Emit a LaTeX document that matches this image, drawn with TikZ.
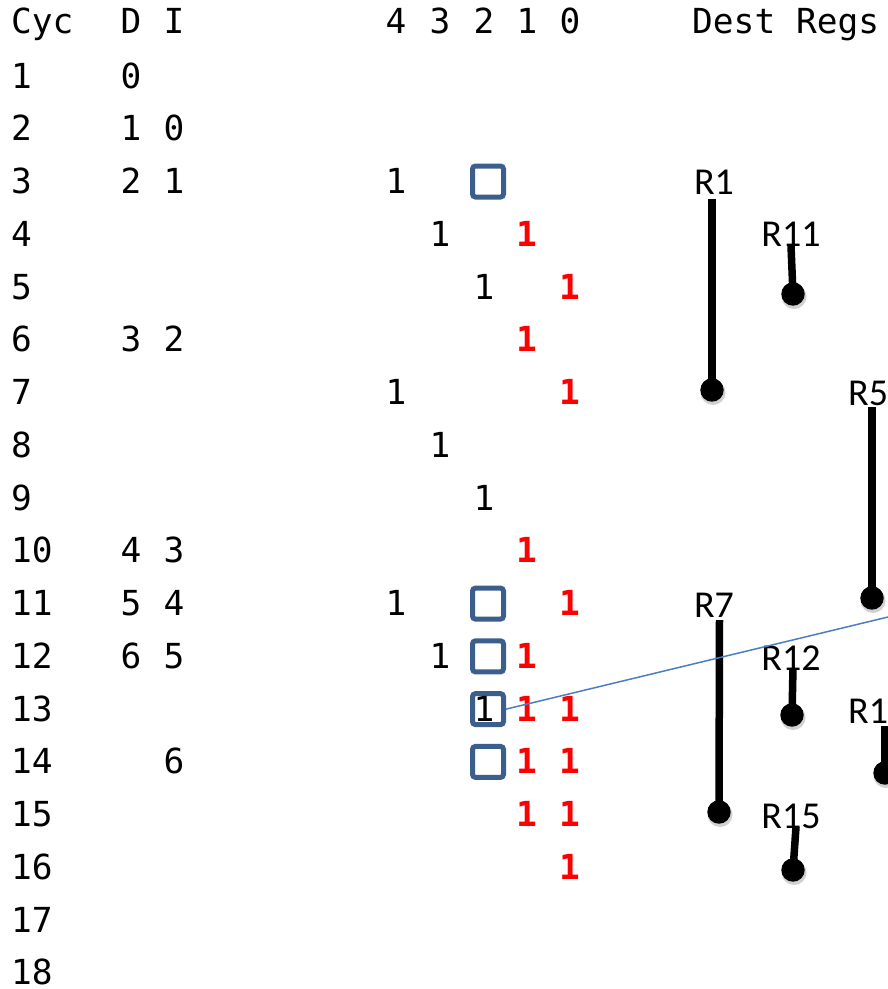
\documentclass[tikz,border=0pt]{standalone}
\usepackage{fontspec}
\usetikzlibrary{calc}
\newfontfamily\monofnt{DejaVu Sans Mono}
\newfontfamily\regfnt{Carlito}
\definecolor{boxblue}{RGB}{59,94,140}
\definecolor{lineblue}{RGB}{74,126,193}
\definecolor{redone}{RGB}{255,0,0}
\begin{document}
\begin{tikzpicture}[x=1pt,y=-1pt,
  txt/.style={font=\monofnt\fontsize{34.5}{34.5}\selectfont, inner sep=0pt, anchor=base},
  ltxt/.style={txt, anchor=base west},
  redtxt/.style={txt, font=\monofnt\bfseries\fontsize{34.5}{34.5}\selectfont, text=redone},
  reg/.style={font=\regfnt\fontsize{38}{38}\selectfont, inner sep=0pt, anchor=base},
  regw/.style={reg, anchor=base west},
  qbox/.style={draw=boxblue, line width=5pt, rounded corners=3pt, minimum size=31pt, inner sep=0pt},
  bar/.style={line width=7.5pt},
  blueline/.style={draw=lineblue, line width=1.5pt}]
\useasboundingbox (0,0) rectangle (888,989);
\clip (0,0) rectangle (888,989);
% header
\node[ltxt] (hcyc) at (11,33) {Cyc};
\node[txt] (hd) at (131,33) {D};
\node[txt] (hi) at (174,33) {I};
\node[txt] (h4) at (396,33) {4};
\node[txt] (h3) at (440,33) {3};
\node[txt] (h2) at (484,33) {2};
\node[txt] (h1) at (527,33) {1};
\node[txt] (h0) at (570,33) {0};
\node[ltxt] (hdest) at (692,33) {Dest Regs};
% cycle numbers
\foreach \n in {1,...,18}
  \node[ltxt] (cyc\n) at (11,{88+52.76*(\n-1)}) {\n};
% D column
\foreach \n/\v in {1/0,2/1,3/2,6/3,10/4,11/5,12/6}
  \node[txt] (d\n) at (131,{88+52.76*(\n-1)}) {\v};
% I column
\foreach \n/\v in {2/0,3/1,6/2,10/3,11/4,12/5,14/6}
  \node[txt] (i\n) at (174,{88+52.76*(\n-1)}) {\v};
% boxes
\foreach \n in {3,11,12,13,14}
  \node[qbox] (b\n) at (488,{76+52.76*(\n-1)}) {};
% black ones
\foreach \n/\x in {3/396,4/440,5/484,7/396,8/440,9/484,11/396,12/440,13/484}
  \node[txt] (k\n x\x) at (\x,{88+52.76*(\n-1)}) {1};
% red ones
\foreach \n/\x in {4/527,5/570,6/527,7/570,10/527,11/570,12/527,13/527,13/570,14/527,14/570,15/527,15/570,16/570}
  \node[redtxt] (r\n x\x) at (\x,{88+52.76*(\n-1)}) {1};
% register labels
\node[reg] (lr1) at (714,194) {R1};
\node[reg] (lr11) at (791,246.5) {R11};
\node[regw] (lr5) at (848,405) {R5};
\node[reg] (lr7) at (714,617) {R7};
\node[reg] (lr12) at (791,670) {R12};
\node[regw] (lr13) at (848,723) {R1};
\node[reg] (lr15) at (791,828) {R15};
% lollipop coordinates
\coordinate (t1) at (712,199); \coordinate (e1) at (712,390);
\coordinate (t11) at (791,246); \coordinate (e11) at (793,294);
\coordinate (t5) at (872,407); \coordinate (e5) at (872,598);
\coordinate (t7) at (719.5,620); \coordinate (e7) at (719,812);
\coordinate (t12) at (793,668); \coordinate (e12) at (792,715);
\coordinate (t13) at (885,726); \coordinate (e13) at (885,773);
\coordinate (t15) at (796,827); \coordinate (e15) at (793,870);
\foreach \k in {1,11,5,7,12,13,15} {
  \fill[black!18] ($(e\k)+(1,2.5)$) circle (12.5);
  \draw[bar] (t\k) -- (e\k);
  \fill (e\k) circle (11.7);
}
% blue line
\coordinate (lend) at (888,617);
\draw[blueline] (b13.east) -- (lend);
\end{tikzpicture}
\end{document}
